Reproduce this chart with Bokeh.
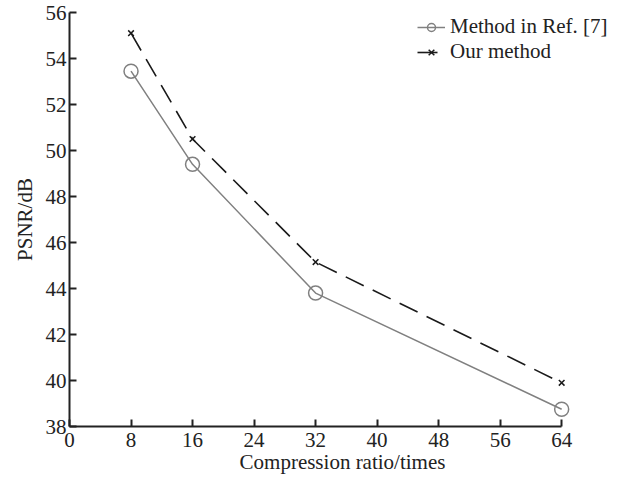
from bokeh.plotting import figure
from bokeh.models import Legend, LegendItem, FixedTicker, Range1d
from bokeh.embed import file_html
from bokeh.resources import INLINE

x_ratio = [8, 16, 32, 64]
psnr_ref7 = [53.45, 49.4, 43.8, 38.75]
psnr_ours = [55.1, 50.5, 45.15, 39.9]
x_ticks = [0, 8, 16, 24, 32, 40, 48, 56, 64]
y_ticks = [38, 40, 42, 44, 46, 48, 50, 52, 54, 56]

FONT = "Liberation Serif"

p = figure(width=620, height=476, output_backend="svg", toolbar_location=None,
           x_range=Range1d(0, 71), y_range=Range1d(38, 56),
           min_border_left=69, min_border_right=5, min_border_top=12, min_border_bottom=49)
p.outline_line_color = None
p.grid.visible = False
p.background_fill_color = "white"
p.border_fill_color = "white"

for ax in (p.xaxis[0], p.yaxis[0]):
    ax.axis_line_width = 2
    ax.axis_line_color = "#222222"
    ax.major_tick_line_color = "#222222"
    ax.major_tick_line_width = 2
    ax.major_tick_in = 7
    ax.major_tick_out = 0
    ax.minor_tick_line_color = None
    ax.major_label_text_font = FONT
    ax.major_label_text_font_size = "21px"
    ax.major_label_text_color = "#222222"
    ax.axis_label_text_font = FONT
    ax.axis_label_text_font_size = "21px"
    ax.axis_label_text_font_style = "normal"
    ax.axis_label_text_color = "#222222"

p.xaxis.ticker = FixedTicker(ticks=x_ticks)
p.yaxis.ticker = FixedTicker(ticks=y_ticks)
p.xaxis.bounds = (0, 64)
p.xaxis.axis_label = "Compression ratio/times"
p.yaxis.axis_label = "PSNR/dB"
p.xaxis.major_label_standoff = 6
p.yaxis.major_label_standoff = 3
p.xaxis.axis_label_standoff = 0
p.yaxis.axis_label_standoff = 6

l1 = p.line(x_ratio, psnr_ref7, line_color="#808080", line_width=1.5)
m1 = p.scatter(x_ratio, psnr_ref7, marker="circle", size=14, fill_color=None,
               line_color="#808080", line_width=1.5)
l2 = p.line(x_ratio, psnr_ours, line_color="#1a1a1a", line_width=1.6, line_dash="20 10")
m2 = p.scatter(x_ratio, psnr_ours, marker="x", size=8, line_color="#1a1a1a", line_width=1.5)

legend = Legend(items=[
    LegendItem(label="Method in Ref. [7]", renderers=[l1, m1]),
    LegendItem(label="Our method", renderers=[l2, m2]),
], location=(348, 362))
legend.label_text_font = FONT
legend.label_text_font_size = "21px"
legend.label_text_color = "#222222"
legend.glyph_width = 28
legend.glyph_height = 20
legend.label_height = 23
legend.label_standoff = 5
legend.spacing = 0
legend.padding = 0
legend.margin = 0
legend.border_line_color = None
legend.background_fill_alpha = 0
p.add_layout(legend, "center")

open("out.html", "w").write(file_html(p, INLINE))
